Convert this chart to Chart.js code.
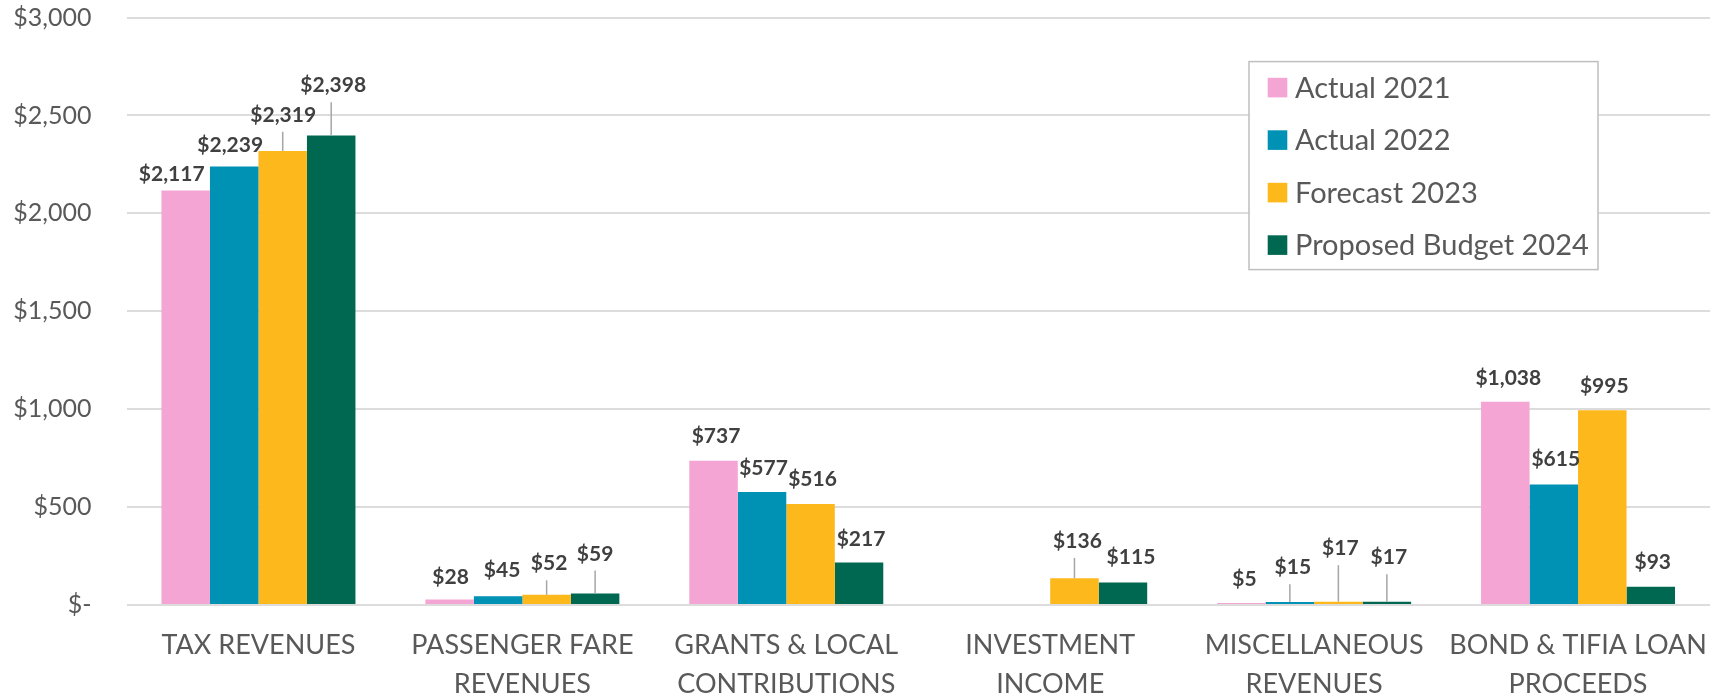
<!DOCTYPE html>
<html><head><meta charset="utf-8">
<script src="https://cdn.jsdelivr.net/npm/chart.js@4"></script>
<style>html,body{margin:0;padding:0;background:#fff}canvas{display:block}</style>
</head><body>
<canvas id="c" width="1721" height="699"></canvas>
<script>
// ---- data ----
const categories = [
  ["TAX REVENUES"],
  ["PASSENGER FARE", "REVENUES"],
  ["GRANTS & LOCAL", "CONTRIBUTIONS"],
  ["INVESTMENT", "INCOME"],
  ["MISCELLANEOUS", "REVENUES"],
  ["BOND & TIFIA LOAN", "PROCEEDS"]
];
const seriesNames = ["Actual 2021", "Actual 2022", "Forecast 2023", "Proposed Budget 2024"];
const actual2021   = [2117, 28, 737, -3, 5, 1038];
const actual2022   = [2239, 45, 577, -2, 15, 615];
const forecast2023 = [2319, 52, 516, 136, 17, 995];
const budget2024   = [2398, 59, 217, 115, 17, 93];
const yTickValues  = [0, 500, 1000, 1500, 2000, 2500, 3000];
const yTickLabels  = ["$-", "$500", "$1,000", "$1,500", "$2,000", "$2,500", "$3,000"];

// ---- styling ----
const colors = ["#F4A5D4", "#0092B4", "#FDB81C", "#006850"];
// data-label nudges [dx, gap above bar top] per series, per category
const labelNudges = [
  [[-14, 17], [1, 23.5], [2.5, 25.5], null, [3, 25], [3, 24.6]],
  [[-4, 22], [4, 26.6], [1.5, 24.5], null, [3, 35.4], [2, 25.8]],
  [[0.5, 36.7], [2.5, 32], [2, 25], [3, 38], [2, 54], [2, 25]],
  [[2, 50.7], [0, 40.4], [2, 24.5], [8, 26], [2, 45], [2, 25]]
];
const FONT = "Lato";
const labelFontSize = 21;

function money(v) { return v === 0 ? "$-" : "$" + v.toLocaleString("en-US"); }

const dataLabels = {
  id: "dataLabels",
  afterDatasetsDraw(chart) {
    const ctx = chart.ctx;
    ctx.save();
    ctx.font = "bold " + labelFontSize + "px " + FONT;
    ctx.textAlign = "center";
    ctx.textBaseline = "alphabetic";
    chart.data.datasets.forEach((ds, di) => {
      const meta = chart.getDatasetMeta(di);
      meta.data.forEach((bar, i) => {
        const v = ds.data[i];
        const nudge = labelNudges[di][i];
        if (v < 0 || !nudge) return;
        const cx = bar.x + nudge[0];
        const cy = bar.y - nudge[1];
        if (nudge[1] > 30) {
          ctx.strokeStyle = "#A6A6A6";
          ctx.lineWidth = 1.5;
          ctx.beginPath();
          ctx.moveTo(bar.x, cy + 17.5);
          ctx.lineTo(bar.x, bar.y);
          ctx.stroke();
        }
        ctx.fillStyle = "#404040";
        ctx.fillText(money(v), cx, cy + 0.3585 * labelFontSize);
      });
    });
    ctx.restore();
  }
};

const boxLegend = {
  id: "boxLegend",
  afterDraw(chart) {
    const ctx = chart.ctx, a = chart.chartArea;
    const left = a.right - 461, top = a.top + 44, w = 349, h = 208;
    ctx.save();
    ctx.fillStyle = "#fff";
    ctx.fillRect(left, top, w, h);
    ctx.strokeStyle = "#BFBFBF";
    ctx.lineWidth = 1.5;
    ctx.strokeRect(left, top, w, h);
    ctx.font = "29px " + FONT;
    ctx.textBaseline = "middle";
    ctx.textAlign = "left";
    chart.data.datasets.forEach((ds, i) => {
      const cy = top + 26 + i * 52.5;
      ctx.fillStyle = ds.backgroundColor;
      ctx.fillRect(left + 18.7, cy - 9.8, 19.6, 19.6);
      ctx.fillStyle = "#595959";
      ctx.fillText(ds.label, left + 46, cy + 1);
    });
    ctx.restore();
  }
};

const allSeries = [actual2021, actual2022, forecast2023, budget2024];

new Chart(document.getElementById("c"), {
  type: "bar",
  data: {
    labels: categories,
    datasets: allSeries.map((vals, i) => ({
      label: seriesNames[i],
      data: vals,
      backgroundColor: colors[i],
      borderWidth: 0,
      categoryPercentage: 0.735,
      barPercentage: 1.0,
      minBarLength: 2
    }))
  },
  options: {
    responsive: false,
    animation: false,
    devicePixelRatio: 1,
    layout: { padding: { top: 17.6, right: 11, left: 0, bottom: 0 } },
    plugins: { legend: { display: false }, tooltip: { enabled: false } },
    scales: {
      x: {
        grid: { display: false, drawTicks: false },
        border: { display: false },
        ticks: {
          autoSkip: false, maxRotation: 0, minRotation: 0,
          padding: 21,
          color: "#595959",
          font: { family: FONT, size: 27, lineHeight: 1.44 }
        },
        afterFit(s) { s.height = 94; s.paddingLeft = 0; s.paddingRight = 0; }
      },
      y: {
        min: 0, max: 3000,
        grid: { color: "#DCDCDC", lineWidth: 2, drawTicks: false },
        border: { display: false },
        afterBuildTicks(s) { s.ticks = yTickValues.map(v => ({ value: v })); },
        ticks: {
          padding: 35,
          color: "#595959",
          font: { family: FONT, size: 25 },
          callback(v) { const k = yTickValues.indexOf(v); return k >= 0 ? yTickLabels[k] : ""; }
        },
        afterFit(s) { s.width = 126.5; s.paddingTop = 0; s.paddingBottom = 0; }
      }
    }
  },
  plugins: [dataLabels, boxLegend]
});
</script>
</body></html>
